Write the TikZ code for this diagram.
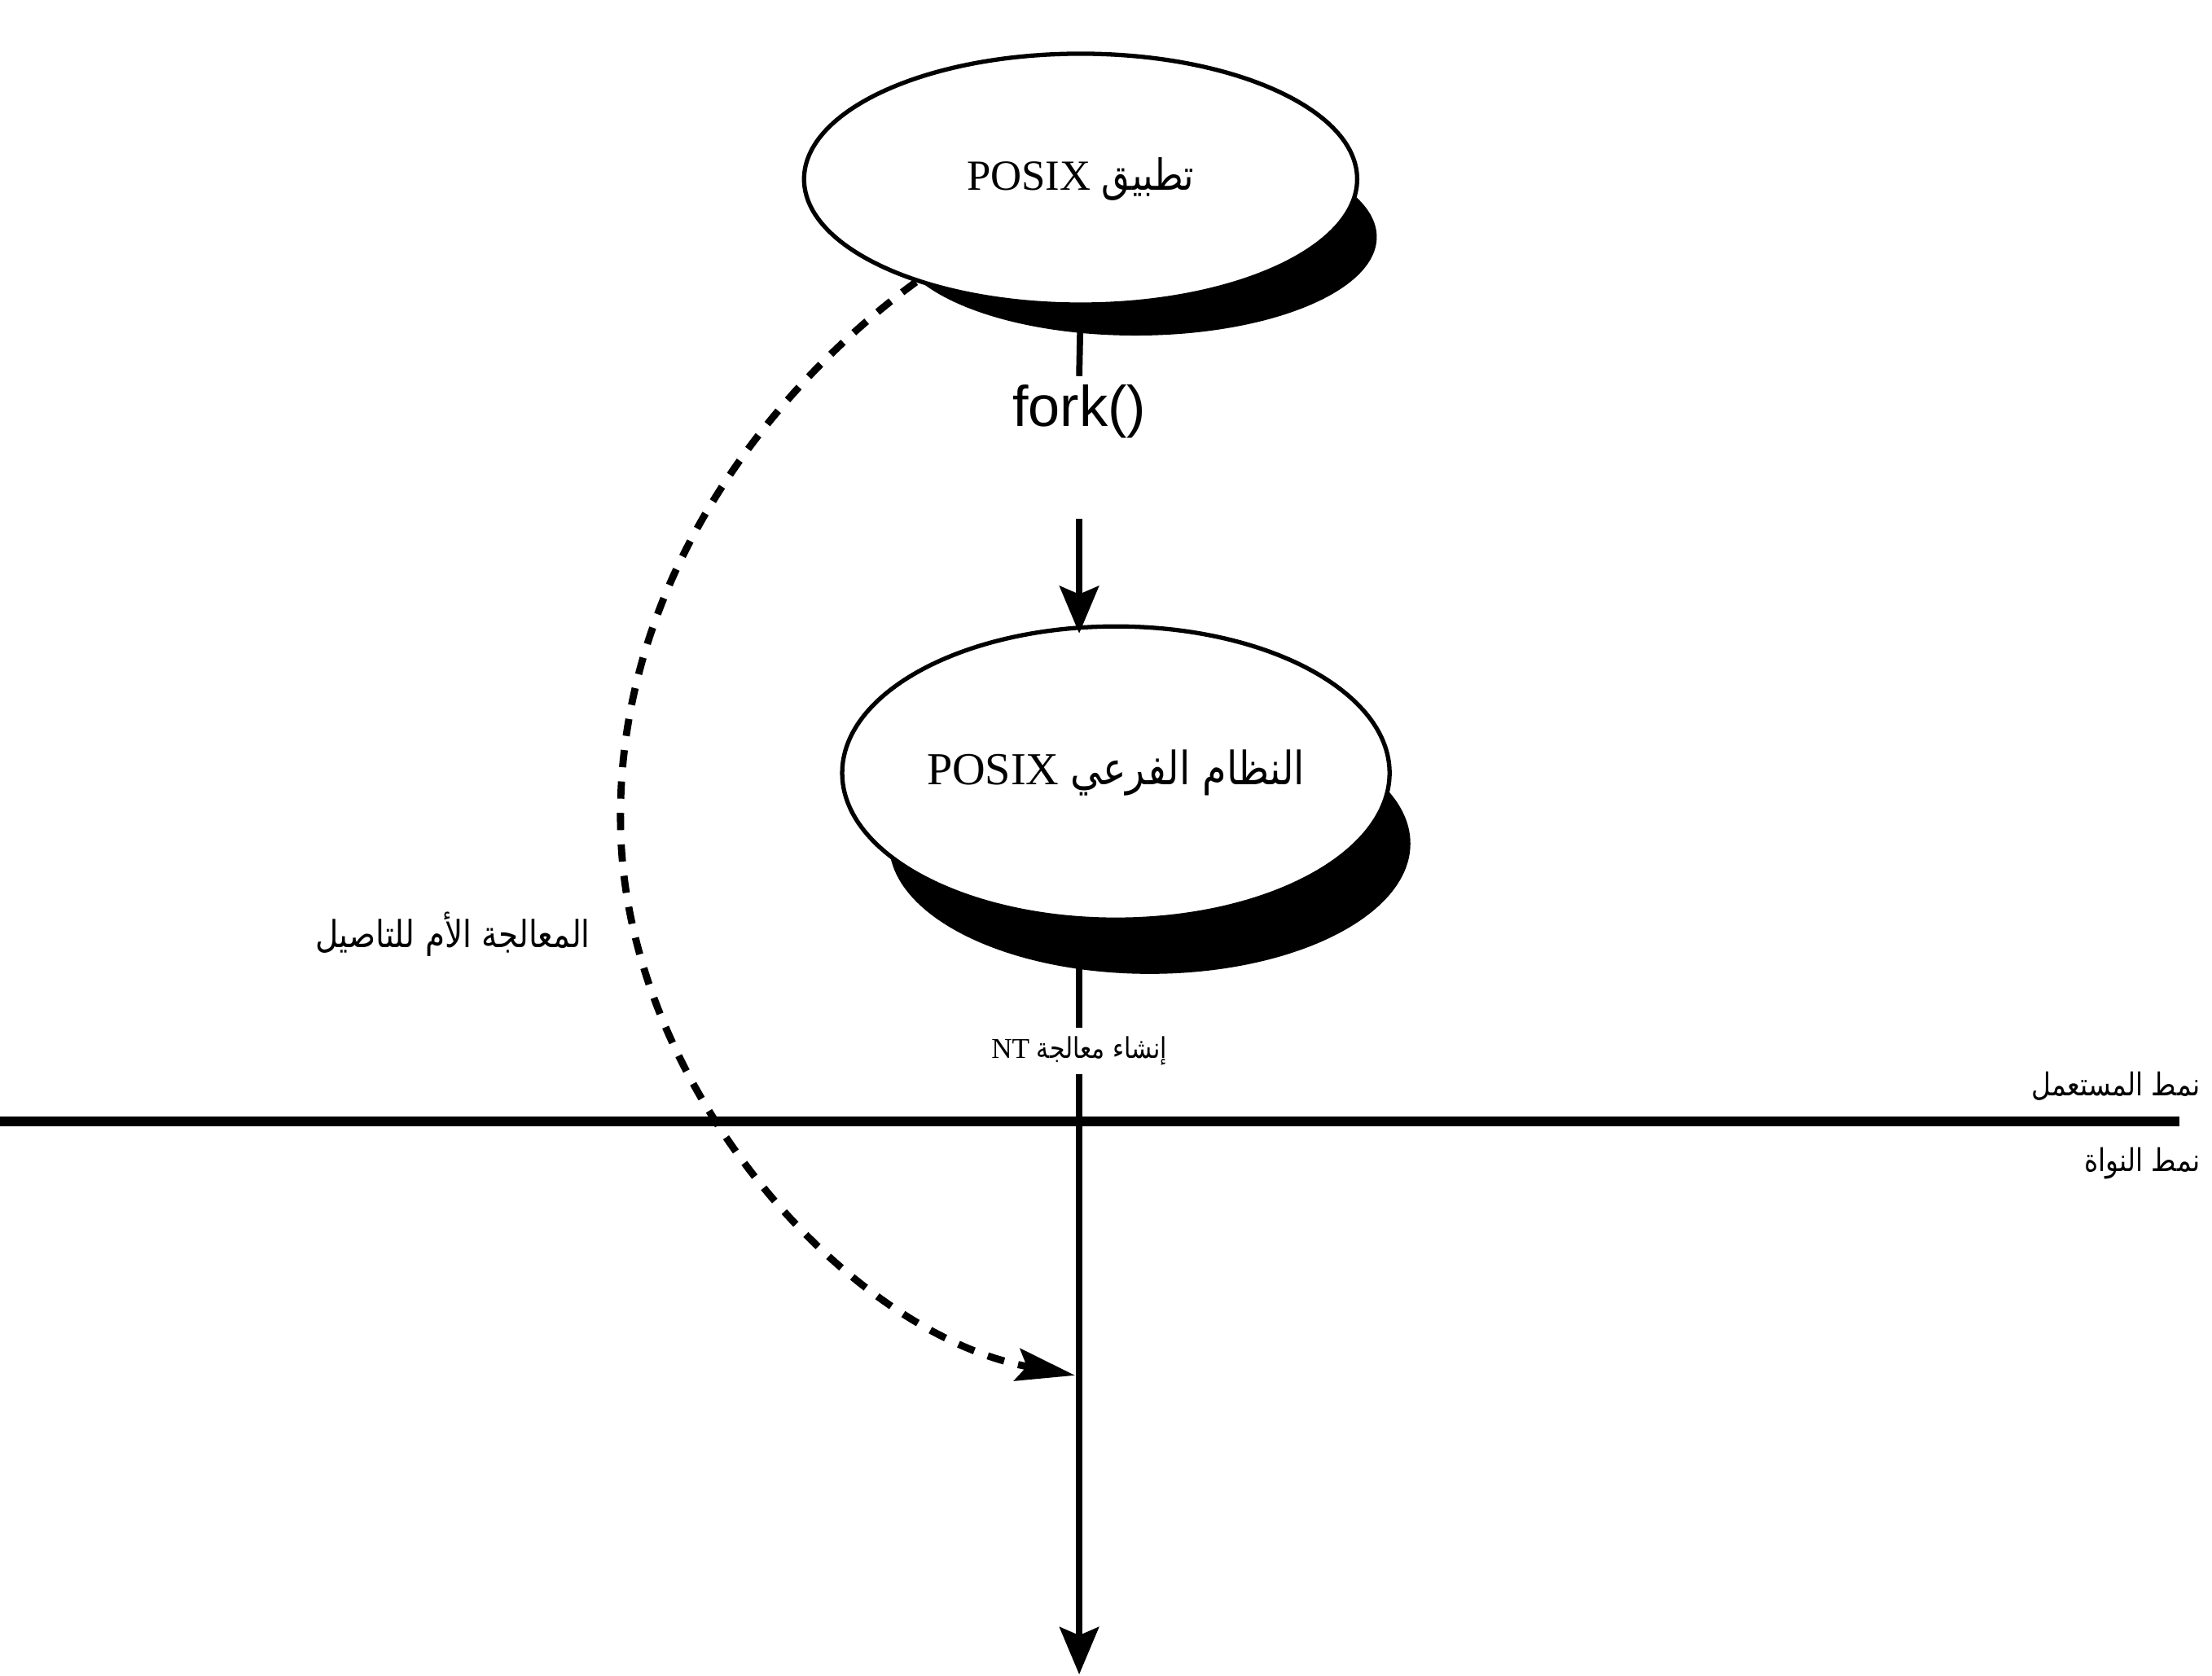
\documentclass[tikz,border=0pt]{standalone}
\usepackage{fontspec}
\setmainfont{Liberation Serif}
\newfontfamily\arabicfont[Script=Arabic, FakeStretch=0.85]{DejaVu Sans}
\newfontfamily\forkfont{Liberation Sans}
\TeXXeTstate=1
\usetikzlibrary{arrows.meta,shapes.geometric}

\tikzset{
  blob/.style={ellipse, draw, line width=1.5pt, fill=white, inner xsep=-5pt, inner ysep=0pt,
    font=\fontsize{16}{18}\selectfont},
  tag/.style={inner sep=3pt, font=\fontsize{11}{13}\selectfont},
  wire/.style={line width=2.2pt},
  flow/.style={line width=2.2pt, -{Stealth[length=0.58cm, width=0.48cm, inset=0.1cm]}},
}

\begin{document}
\begin{tikzpicture}[x=0.01732cm, y=-0.01732cm]
    \useasboundingbox (0,0) rectangle (1568,1188);

    % 椭圆中心与阴影
    \coordinate (appc) at (766,127);
    \coordinate (subc) at (791,548);
    \fill ([shift={(39,41)}]appc) ellipse [x radius=2.96cm, y radius=1.21cm];
    \fill ([shift={(24,50)}]subc) ellipse [x radius=3.2cm, y radius=1.6cm];

    % 定义节点
    \node[blob, minimum width=6.79cm, minimum height=3.08cm, font=\fontsize{15}{17}\selectfont]
        (app) at (appc) {\beginR{\arabicfont تطبيق} POSIX\endR};
    \node[tag, font=\forkfont\fontsize{20}{22}\selectfont] (fork) at (765,292) {fork()};
    \node[blob, minimum width=6.72cm, minimum height=3.6cm]
        (subsys) at (subc) {\beginR{\arabicfont النظام الفرعي} POSIX\endR};
    \node[tag, font=\fontsize{10}{12}\selectfont] (create) at (765,745)
        {\beginR{\arabicfont إنشاء معالجة} NT\endR};
    \node[tag, font=\fontsize{13}{15}\selectfont] (parent) at (321,662)
        {\arabicfont\beginR المعالجة الأم للتاصيل\endR};
    \node[tag, anchor=east] (umode) at (1566,770) {\arabicfont\beginR نمط المستعمل\endR};
    \node[tag, anchor=east] (kmode) at (1566,825) {\arabicfont\beginR نمط النواة\endR};

    % 定义端点
    \coordinate (forkend) at (765,368);
    \coordinate (tipA) at (765,449);
    \coordinate (tipB) at (765,1187);
    \coordinate (hit) at (762,975);
    \coordinate (L) at (0,795);
    \coordinate (R) at (1545,795);

    % 连线
    \draw[wire] (app.south) -- (fork.north);
    \draw[flow] (forkend) -- (tipA);
    \draw[wire] (tipA |- subsys.south) -- (create.north);
    \draw[flow] (create.south) -- (tipB);
    \draw[line width=3.5pt] (L) -- (R);

    % 虚线箭头
    \draw[line width=2.5pt, dash pattern=on 6pt off 5pt,
          -{Stealth[length=0.72cm, width=0.4cm, inset=0.12cm]}]
        (app.212) .. controls (540,280) and (435,420) .. (440,590)
        .. controls (445,770) and (600,945) .. (hit);

\end{tikzpicture}
\end{document}
